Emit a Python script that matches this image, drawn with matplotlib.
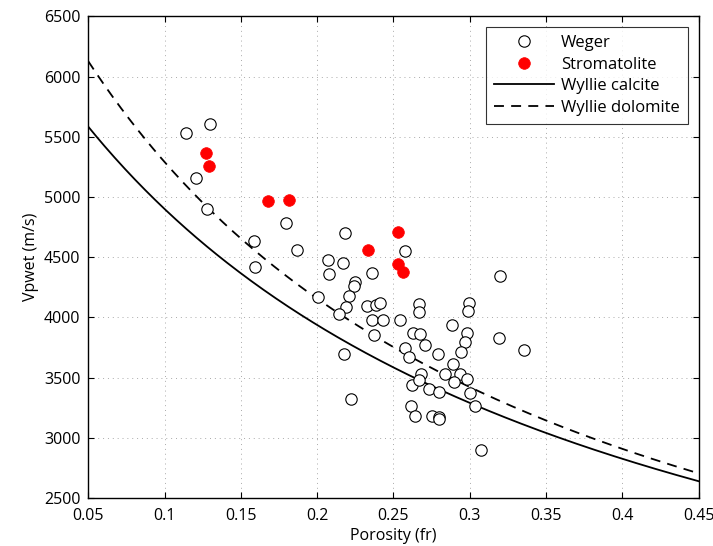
import numpy as np
import matplotlib
matplotlib.use("Agg")
import matplotlib.pyplot as plt

# Weger data (porosity fraction, Vp wet m/s)
weger_phi = [0.1141, 0.1298, 0.1209, 0.1281, 0.1794, 0.2181, 0.1589, 0.1870, 0.1591, 0.2073,
             0.2172, 0.2078, 0.2251, 0.2244, 0.2212, 0.2009, 0.2189, 0.2142, 0.2574, 0.2358,
             0.3200, 0.2330, 0.2384, 0.2412, 0.2670, 0.2666, 0.2997, 0.2986, 0.2357, 0.2432,
             0.2543, 0.2884, 0.2373, 0.2630, 0.2674, 0.2980, 0.3194, 0.3354, 0.2969, 0.2708,
             0.2576, 0.2600, 0.2790, 0.2940, 0.2888, 0.2681, 0.2836, 0.2936, 0.2980, 0.2620,
             0.2667, 0.2735, 0.2800, 0.2900, 0.3002, 0.3036, 0.2616, 0.2643, 0.2753, 0.2797,
             0.2801, 0.3077, 0.2224, 0.2177]
weger_vp = [5529, 5604, 5155, 4898, 4784, 4704, 4632, 4562, 4416, 4477,
            4452, 4358, 4297, 4258, 4178, 4172, 4086, 4026, 4554, 4366,
            4346, 4095, 4103, 4122, 4111, 4042, 4117, 4052, 3981, 3976,
            3978, 3937, 3854, 3868, 3858, 3873, 3833, 3728, 3792, 3769,
            3742, 3670, 3698, 3714, 3617, 3528, 3534, 3530, 3486, 3437,
            3477, 3409, 3378, 3462, 3376, 3262, 3268, 3177, 3184, 3173,
            3156, 2899, 3326, 3694]

# Stromatolite data
strom_phi = [0.1272, 0.1292, 0.1676, 0.1814, 0.2336, 0.2532, 0.2528, 0.2565]
strom_vp = [5363, 5258, 4964, 4978, 4560, 4707, 4441, 4380]

# Wyllie time-average parameters (m/s)
v_fluid = 1530.0
v_calcite = 6490.0
v_dolomite = 7280.0
phi_range = (0.05, 0.45)

xticks = [0.05, 0.1, 0.15, 0.2, 0.25, 0.3, 0.35, 0.4, 0.45]
xticklabels = ["0.05", "0.1", "0.15", "0.2", "0.25", "0.3", "0.35", "0.4", "0.45"]
yticks = [2500, 3000, 3500, 4000, 4500, 5000, 5500, 6000, 6500]

plt.rcParams['font.family'] = ['Open Sans', 'DejaVu Sans']

fig = plt.figure(figsize=(7.13, 5.46), dpi=100)
ax = fig.add_axes([88.2/713, 1-498/546, (698.6-88.2)/713, (498-16.4)/546])

phi = np.linspace(phi_range[0], phi_range[1], 300)
wyllie_cal = 1.0 / (phi / v_fluid + (1 - phi) / v_calcite)
wyllie_dol = 1.0 / (phi / v_fluid + (1 - phi) / v_dolomite)

ax.plot(weger_phi, weger_vp, linestyle='none', marker='o', markersize=8.2,
        markerfacecolor='white', markeredgecolor='black', markeredgewidth=0.8,
        label='Weger', zorder=3)
ax.plot(strom_phi, strom_vp, linestyle='none', marker='o', markersize=8.4,
        markerfacecolor='#ff0000', markeredgecolor='#ff0000', markeredgewidth=0.5,
        label='Stromatolite', zorder=4)
ax.plot(phi, wyllie_cal, color='black', lw=1.3, label='Wyllie calcite', zorder=2)
ax.plot(phi, wyllie_dol, color='black', lw=1.3, linestyle=(0, (5.5, 4)),
        label='Wyllie dolomite', zorder=2)

ax.set_xlim(0.05, 0.45)
ax.set_ylim(2500, 6500)
ax.set_xticks(xticks)
ax.set_xticklabels(xticklabels)
ax.set_yticks(yticks)
ax.tick_params(direction='in', top=True, right=True, length=4, width=0.8,
               labelsize=11.5)
ax.tick_params(axis='x', pad=7)
ax.tick_params(axis='y', pad=5.5)
ax.grid(True, linestyle=(0, (1, 4)), color='#aaaaaa', linewidth=0.7)
for s in ax.spines.values():
    s.set_linewidth(1.0)

ax.set_xlabel('Porosity (fr)', fontsize=11.5, labelpad=3)
ax.set_ylabel('Vpwet (m/s)', fontsize=11.5, labelpad=4)

leg = ax.legend(loc='upper right', bbox_to_anchor=((688-88.2)/610.4, (498-27)/481.6),
                borderaxespad=0, fontsize=12, frameon=True, fancybox=False,
                edgecolor='black', handlelength=3.6, labelspacing=0.33,
                borderpad=0.5, handletextpad=0.4)
leg.get_frame().set_linewidth(0.8)

fig.savefig('out.png', dpi=100)
